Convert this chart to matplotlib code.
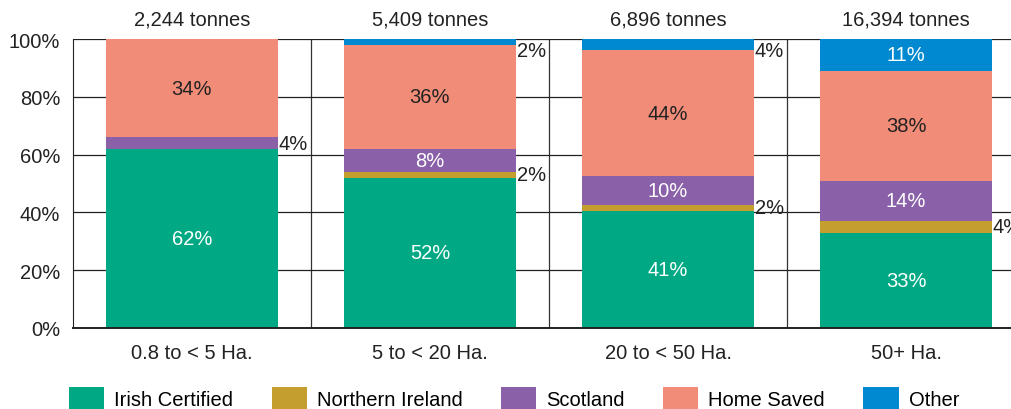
import matplotlib.pyplot as plt
from matplotlib.patches import Patch

plt.rcParams['font.family'] = ['Liberation Sans', 'DejaVu Sans']

categories = ['0.8 to < 5 Ha.', '5 to < 20 Ha.', '20 to < 50 Ha.', '50+ Ha.']
tonnes = ['2,244 tonnes', '5,409 tonnes', '6,896 tonnes', '16,394 tonnes']
series = ['Irish Certified', 'Northern Ireland', 'Scotland', 'Home Saved', 'Other']
irish = [62, 52, 41, 33]
northern = [0, 2, 2, 4]
scotland = [4, 8, 10, 14]
home_saved = [34, 36, 44, 38]
other = [0, 2, 4, 11]

colors = ['#00a984', '#c49f2f', '#8a60a8', '#f08c78', '#0089d0']
text_colors = ['white', 'white', 'white', '#222222', 'white']
values = [irish, northern, scotland, home_saved, other]
fs = 14.5

fig = plt.figure(figsize=(10.12, 4.10), dpi=100)
ax = fig.add_axes([0.072, 0.1976, 0.928, 0.7048])

x = list(range(len(categories)))
totals = [sum(v[i] for v in values) for i in x]
bottoms = [0.0] * len(x)
for s, vals in enumerate(values):
    heights = [vals[i] / totals[i] * 100 for i in x]
    ax.bar(x, heights, 0.72, bottom=bottoms, color=colors[s], zorder=3)
    for i in x:
        if vals[i] == 0:
            continue
        mid = bottoms[i] + heights[i] / 2
        if vals[i] >= 8:
            ax.text(i, mid, f'{vals[i]}%', ha='center', va='center',
                    color=text_colors[s], fontsize=fs, zorder=4)
        else:
            # small shares are written just right of the bar
            ax.text(i + 0.365, min(mid, 96), f'{vals[i]}%', ha='left', va='center',
                    color='#222222', fontsize=fs, zorder=4)
    bottoms = [bottoms[i] + heights[i] for i in x]

for i in x:
    ax.text(i, 107, tonnes[i], ha='center', va='center', fontsize=fs, color='#222222')

ax.set_xlim(-0.5, 3.445)
ax.set_ylim(0, 100)
ax.set_yticks([0, 20, 40, 60, 80, 100])
ax.set_yticklabels([f'{t}%' for t in range(0, 101, 20)], fontsize=fs, color='#222222')
ax.set_xticks(x)
ax.set_xticklabels(categories, fontsize=fs, color='#222222')
ax.tick_params(axis='both', length=0)
ax.tick_params(axis='x', pad=11)
ax.tick_params(axis='y', pad=9)

ax.grid(axis='y', color='#222222', linewidth=0.9, zorder=1)
for b in [0.5, 1.5, 2.5]:
    ax.axvline(b, color='#333333', linewidth=0.9, zorder=1)

for side in ['top', 'right']:
    ax.spines[side].set_visible(False)
ax.spines['left'].set_color('#222222')
ax.spines['bottom'].set_color('#222222')
ax.spines['bottom'].set_linewidth(1.4)
ax.spines['bottom'].set_zorder(5)

handles = [Patch(facecolor=c, edgecolor='none') for c in colors]
fig.legend(handles, series, loc='center', bbox_to_anchor=(0.508, 0.027), ncol=5,
           frameon=False, fontsize=fs, handlelength=1.75, handleheight=1.25,
           handletextpad=0.5, columnspacing=1.9)

fig.savefig('out.png', dpi=100)
